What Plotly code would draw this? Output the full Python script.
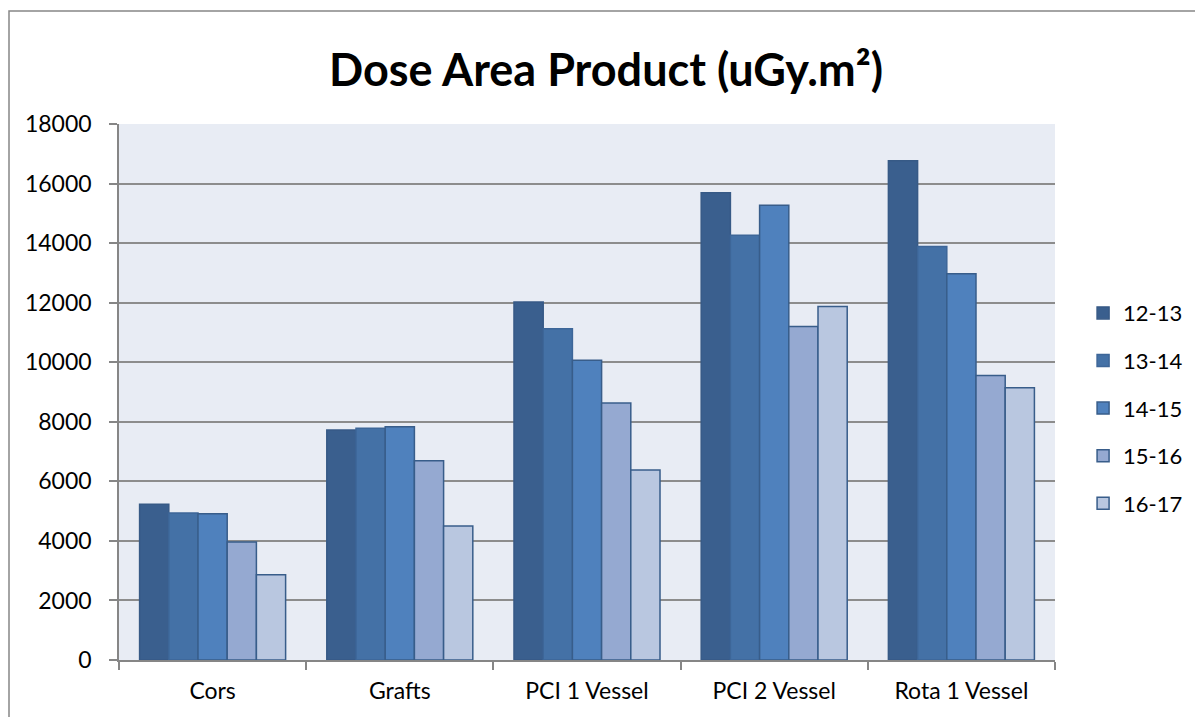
import plotly.graph_objects as go

categories = ["Cors", "Grafts", "PCI 1 Vessel", "PCI 2 Vessel", "Rota 1 Vessel"]
years = ["12-13", "13-14", "14-15", "15-16", "16-17"]
dap_12_13 = [5230, 7720, 12020, 15690, 16770]
dap_13_14 = [4940, 7780, 11120, 14260, 13890]
dap_14_15 = [4910, 7830, 10070, 15270, 12970]
dap_15_16 = [3960, 6690, 8630, 11200, 9550]
dap_16_17 = [2860, 4500, 6380, 11870, 9140]
y_ticks = [0, 2000, 4000, 6000, 8000, 10000, 12000, 14000, 16000, 18000]

series = [dap_12_13, dap_13_14, dap_14_15, dap_15_16, dap_16_17]
fills = ["#3A5F8E", "#4471A6", "#4F81BD", "#95A9D1", "#B9C7E0"]
edges = ["#375A86", "#3D6698", "#385D8A", "#385D8A", "#385D8A"]

FONT = "Lato, Calibri, Carlito, sans-serif"

# the page body has an 8px margin, so the figure is offset by 8px
L, T, PW, PH = 111, 116, 936, 536

fig = go.Figure()
for name, vals, fill, edge in zip(years, series, fills, edges):
    fig.add_trace(
        go.Bar(
            x=categories,
            y=vals,
            name=name,
            legendgroup=name,
            marker=dict(color=fill, line=dict(color=edge, width=1.5)),
        )
    )

fig.update_layout(
    width=1203,
    height=717,
    barmode="group",
    bargap=0.22,
    bargroupgap=0,
    paper_bgcolor="white",
    plot_bgcolor="#E8ECF4",
    margin=dict(l=L, r=1203 - L - PW, t=T, b=717 - T - PH),
    font=dict(family=FONT, size=23, color="#000000"),
    title=dict(
        text="<b>Dose Area Product (uGy.m²)</b>",
        x=(606 - 8) / 1203,
        xanchor="center",
        y=1 - (70 - 8) / 717,
        yanchor="middle",
        font=dict(family=FONT, size=45, color="#000000"),
    ),
    legend=dict(
        x=1.03,
        xanchor="left",
        y=0.47,
        yanchor="middle",
        tracegroupgap=16,
        font=dict(size=22),
        itemwidth=30,
    ),
    xaxis=dict(
        showline=True,
        linecolor="#868686",
        linewidth=1.5,
        ticks="outside",
        tickson="boundaries",
        ticklen=8,
        tickcolor="#868686",
        tickwidth=1.5,
        showgrid=False,
        ticklabelstandoff=10,
    ),
    yaxis=dict(
        range=[0, 18000],
        tickvals=y_ticks,
        tickformat="d",
        ticks="outside",
        ticklen=8,
        tickcolor="#868686",
        tickwidth=1.5,
        showline=True,
        linecolor="#868686",
        linewidth=1.5,
        showgrid=True,
        gridcolor="#8C8C8C",
        gridwidth=1.5,
        zeroline=False,
        ticklabelstandoff=13,
    ),
    shapes=[
        dict(
            type="rect",
            xref="paper",
            yref="paper",
            x0=(1 - L) / PW,
            x1=1.3,
            y0=-0.3,
            y1=(T + PH - 3) / PH,
            line=dict(color="#868686", width=1.5),
            fillcolor="rgba(0,0,0,0)",
            layer="below",
        )
    ],
)

fig.write_html("out.html")
